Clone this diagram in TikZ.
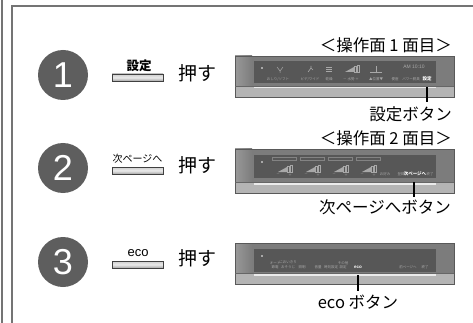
\documentclass[tikz,border=0pt]{standalone}
\usepackage{fontspec}
\setmainfont{Liberation Sans}
\newfontfamily\jp{Noto Sans CJK JP}
\definecolor{frameg}{HTML}{747474}
\definecolor{circg}{HTML}{5E5E5E}
\definecolor{panelg}{HTML}{7C7C7C}
\definecolor{screeng}{HTML}{575757}
\definecolor{stripg}{HTML}{B4B4B4}
\definecolor{icong}{HTML}{A8A8A8}
\definecolor{dimg}{HTML}{838383}
\tikzset{
  numcirc/.style={circle, fill=circg, minimum size=50pt, inner sep=0pt, text=white, font=\fontsize{36}{36}\selectfont},
  btnbar/.style={draw=black!75, line width=0.8pt, top color=white!80!black, bottom color=black!35, middle color=white!92!black, minimum width=51pt, minimum height=7pt, inner sep=0pt},
  btnlbl/.style={font=\jp\fontsize{10}{10}\selectfont, inner sep=0pt, anchor=base},
  push/.style={font=\jp\fontsize{19}{19}\selectfont, inner sep=0pt},
  heading/.style={font=\jp\fontsize{16.5}{16.5}\selectfont, inner sep=0pt, anchor=east},
  callout/.style={font=\jp\fontsize{16.5}{16.5}\selectfont, inner sep=0pt},
  pointer/.style={line width=1.3pt, black},
  tiny/.style={font=\jp\fontsize{3.5}{3.5}\selectfont, text=icong, inner sep=0pt},
  tinyw/.style={font=\jp\bfseries\fontsize{4.5}{4.5}\selectfont, text=white, inner sep=0pt},
}
\begin{document}
\begin{tikzpicture}[x=1pt,y=-1pt]
\useasboundingbox (0,0) rectangle (473,323);
% frame
\draw[frameg, line width=2.5pt] (2,0) -- (2,323);
\draw[frameg, line width=2pt] (12,323) -- (12,6) -- (473,6);

% ---------- panels ----------
\foreach \py/\ph/\sy/\sh in {56/41/61/22, 149/44/155/23, 243/41/249/23}{
  \fill[panelg] (235,\py) rectangle (454,\py+\ph);
  \fill[left color=black!40, right color=panelg] (235,\py) rectangle (252,\py+\ph-11);
  \fill[stripg] (235,\py+\ph-10) rectangle (454,\py+\ph);
  \fill[white!92!black] (254,\py+\ph-10.5) rectangle (436,\py+\ph-8.5);
  \draw[black!65, line width=0.8pt] (235,\py) rectangle (454,\py+\ph);
  \draw[black!60, line width=0.5pt] (235,\py+\ph-10.5) -- (454,\py+\ph-10.5);
  \fill[screeng] (254,\sy) rectangle (436,\sy+\sh);
  \fill[icong] (261,\sy+6) rectangle (263,\sy+8);
}
% panel 1 icons
\draw[icong, line width=0.5pt] (277,67) -- (280,71) -- (283,67) (280,71)--(280,73);
\draw[icong, line width=0.6pt] (308,72) -- (311,68) -- (313,70) (311,68) -- (311,66);
\draw[icong, line width=0.5pt] (326,67)--(332,67) (326,69)--(332,69) (326,71)--(332,71);
\fill[icong] (345,72) -- (354,72) -- (354,67) -- cycle;
\draw[icong, line width=0.4pt] (354,66) rectangle (356,72) (357,65) rectangle (359,72);
\draw[icong, line width=0.6pt] (370,72)--(382,72) (376,66)--(376,72);
\node[tiny, font=\fontsize{5}{5}\selectfont] at (414,67) {AM 10:10};
\node[tiny] at (278,79) {おしり/ソフト};
\node[tiny] at (310,79) {ビデ/ワイド};
\node[tiny] at (329,79) {乾燥};
\node[tiny] at (351,79) {－ 水勢 ＋};
\node[tiny] at (376,79) {▲位置▼};
\node[tiny] at (395,79) {便座};
\node[tiny] at (411,79) {パワー脱臭};
\node[tinyw] at (427,79) {設定};
% panel 2 icons
\foreach \bx in {284,312,340,368}{
  \draw[dimg, line width=0.4pt] (\bx-12,157) rectangle (\bx+12,160.5);
  \fill[icong] (\bx-6,172) -- (\bx+3,172) -- (\bx+3,167) -- cycle;
  \draw[icong, line width=0.4pt] (\bx+3,166) rectangle (\bx+5,172) (\bx+6,165) rectangle (\bx+8,172);
  \node[tiny] at (\bx-6,175) {－};
  \node[tiny] at (\bx+6,175) {＋};
}
\node[tiny] at (385,174) {お好み};
\node[tiny] at (401,174) {登録};
\node[tinyw] at (415,174) {次ページへ};
\node[tiny] at (430,174) {終了};
% panel 3 icons
\node[tiny] at (275,263) {オート};
\node[tiny] at (275,267) {節電};
\node[tiny] at (288,262) {においきり};
\node[tiny] at (288,267) {おそうじ};
\node[tiny] at (302,267) {照明};
\node[tiny] at (318,267) {音量};
\node[tiny] at (331,267) {時刻設定};
\node[tiny] at (343,263) {その他};
\node[tiny] at (343,267) {設定};
\node[tinyw, font=\bfseries\fontsize{4.5}{4.5}\selectfont] at (358,267) {eco};
\node[tiny] at (408,267) {前ページへ};
\node[tiny] at (425,267) {終了};

% ---------- step 1 ----------
\node[numcirc] (c1) at (63,75) {1};
\node[btnbar] (b1) at (137.5,77.5) {};
\node[btnlbl, font=\jp\bfseries\fontsize{12.5}{12.5}\selectfont] (l1) at (139,70.5) {設定};
\node[push] (p1) at (197,73) {押す};
\node[heading] (h1) at (452,45) {＜操作面 1 面目＞};
\coordinate (s1) at (427,87);
\node[callout, anchor=east] (t1) at (452,114) {設定ボタン};
\draw[pointer] (s1) -- (427,102);

% ---------- step 2 ----------
\node[numcirc] (c2) at (63,168) {2};
\node[btnbar] (b2) at (137.5,170.5) {};
\node[btnlbl] (l2) at (137.5,162) {次ページへ};
\node[push] (p2) at (197,165) {押す};
\node[heading] (h2) at (452,138) {＜操作面 2 面目＞};
\coordinate (s2) at (414,182);
\node[callout, anchor=east] (t2) at (451,207) {次ページへボタン};
\draw[pointer] (s2) -- (414,197);

% ---------- step 3 ----------
\node[numcirc] (c3) at (63,262) {3};
\node[btnbar] (b3) at (137.5,264.5) {};
\node[btnlbl, font=\fontsize{13}{13}\selectfont] (l3) at (138,256.5) {eco};
\node[push] (p3) at (197,258) {押す};
\coordinate (s3) at (358,275);
\node[callout] (t3) at (358,302) {eco ボタン};
\draw[pointer] (s3) -- (358,291);
\end{tikzpicture}
\end{document}
